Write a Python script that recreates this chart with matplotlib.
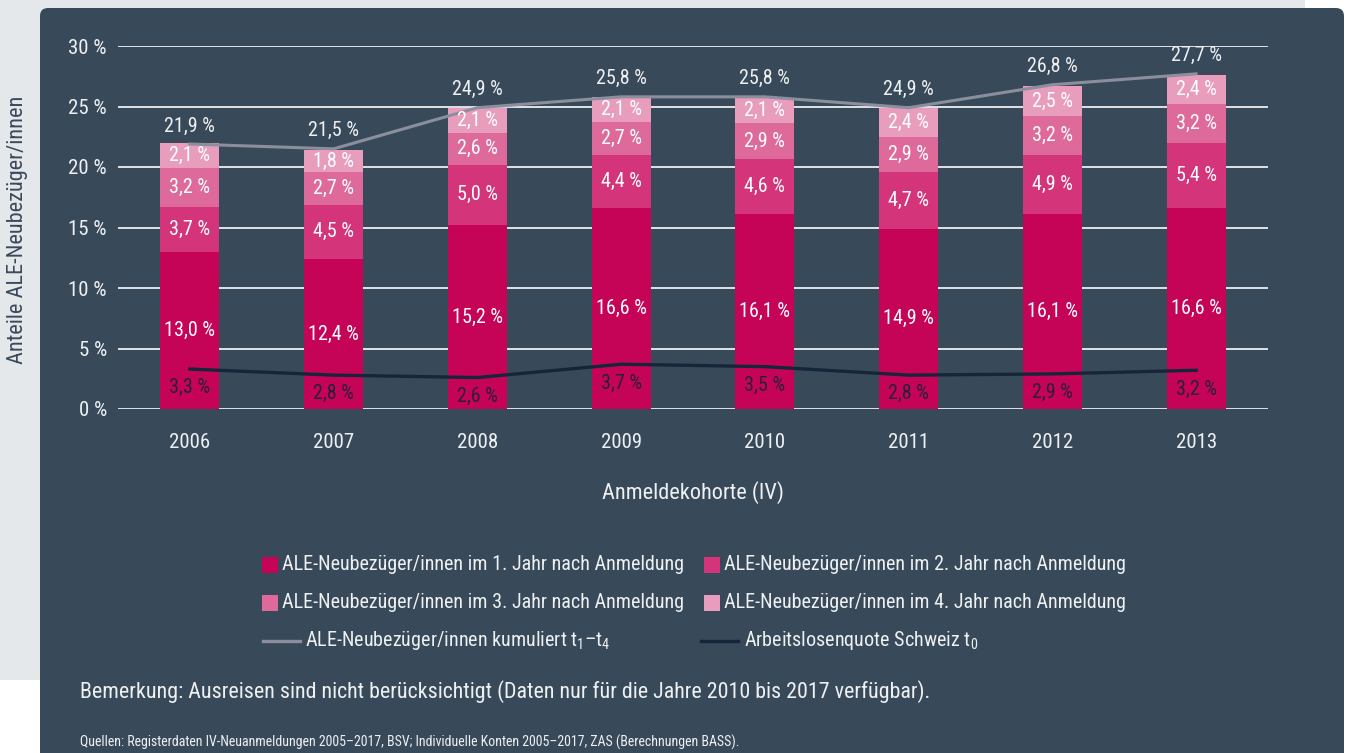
import matplotlib
matplotlib.use("Agg")
import matplotlib.pyplot as plt
from matplotlib import font_manager as fm
from matplotlib.patches import Rectangle, FancyBboxPatch
from matplotlib.lines import Line2D
from matplotlib.transforms import IdentityTransform

# Daten
jahre = ["2006", "2007", "2008", "2009", "2010", "2011", "2012", "2013"]
jahr1 = [13.0, 12.4, 15.2, 16.6, 16.1, 14.9, 16.1, 16.6]
jahr2 = [3.7, 4.5, 5.0, 4.4, 4.6, 4.7, 4.9, 5.4]
jahr3 = [3.2, 2.7, 2.6, 2.7, 2.9, 2.9, 3.2, 3.2]
jahr4 = [2.1, 1.8, 2.1, 2.1, 2.1, 2.4, 2.5, 2.4]
kumuliert = [21.9, 21.5, 24.9, 25.8, 25.8, 24.9, 26.8, 27.7]
alq = [3.3, 2.8, 2.6, 3.7, 3.5, 2.8, 2.9, 3.2]
y_ticks = [0, 5, 10, 15, 20, 25, 30]

serien_namen = [
    "ALE-Neubezüger/innen im 1. Jahr nach Anmeldung",
    "ALE-Neubezüger/innen im 2. Jahr nach Anmeldung",
    "ALE-Neubezüger/innen im 3. Jahr nach Anmeldung",
    "ALE-Neubezüger/innen im 4. Jahr nach Anmeldung",
]
farben = ["#c50458", "#d4347a", "#de6a9b", "#e99dbc"]
panel = "#384a5a"
hellgrau = "#e4e8eb"
textfarbe = "#eef0f2"

# Schrift: möglichst schmal
verfuegbar = {f.name for f in fm.fontManager.ttflist}
schrift = "DejaVu Sans"
for name in ["Roboto Condensed", "Liberation Sans Narrow", "Roboto", "Liberation Sans"]:
    if name in verfuegbar:
        schrift = name
        break
plt.rcParams["font.family"] = [schrift, "DejaVu Sans"]
plt.rcParams["mathtext.fontset"] = "custom"
plt.rcParams["mathtext.rm"] = schrift
plt.rcParams["mathtext.it"] = schrift

def fmt(v):
    return f"{v:.1f}".replace(".", ",") + " %"

W, H = 1346, 753
fig = plt.figure(figsize=(W / 100, H / 100), dpi=100)
fig.patch.set_facecolor("white")

# Hintergrund
fig.patches.append(Rectangle((0, H - 680), 1305, 680, transform=IdentityTransform(),
                             facecolor=hellgrau, edgecolor="none", zorder=-10))
fig.patches.append(FancyBboxPatch((40, -40), 1304, H - 8 + 40,
                                  boxstyle="round,pad=0,rounding_size=8",
                                  transform=IdentityTransform(),
                                  facecolor=panel, edgecolor="none", zorder=-9))

ax = fig.add_axes([118 / W, 344 / H, 1150 / W, 363 / H])
ax.set_facecolor("none")
x = list(range(len(jahre)))
breite = 0.41

unten = [0.0] * len(jahre)
for werte, farbe in zip([jahr1, jahr2, jahr3, jahr4], farben):
    ax.bar(x, werte, width=breite, bottom=unten, color=farbe, zorder=3)
    for i, v in enumerate(werte):
        ax.text(x[i], unten[i] + v / 2, fmt(v), ha="center", va="center",
                color="white", fontsize=14.5, zorder=5)
    unten = [u + v for u, v in zip(unten, werte)]

ax.plot(x, kumuliert, color="#8b8f9d", lw=2.2, zorder=4)
for i, v in enumerate(kumuliert):
    ax.annotate(fmt(v), (x[i], v), xytext=(0, 13), textcoords="offset points",
                ha="center", va="center", color=textfarbe, fontsize=14.5)

ax.plot(x, alq, color="#17253a", lw=2.4, zorder=4)
for i, v in enumerate(alq):
    ax.annotate(fmt(v), (x[i], v), xytext=(0, -13.5), textcoords="offset points",
                ha="center", va="center", color="#2a1f3a", fontsize=14.5, zorder=5)

ax.set_xlim(-0.5, len(jahre) - 0.5)
ax.set_ylim(0, 30)
ax.set_yticks(y_ticks)
ax.set_yticklabels([f"{t} %" for t in y_ticks])
ax.set_xticks(x)
ax.set_xticklabels(jahre)
ax.tick_params(axis="both", length=0, colors=textfarbe, labelsize=15)
ax.tick_params(axis="x", pad=17)
ax.tick_params(axis="y", pad=8)
ax.grid(axis="y", color="#dfe3e7", lw=1.4, zorder=1)
for s in ax.spines.values():
    s.set_visible(False)
ax.set_xlabel("Anmeldekohorte (IV)", color=textfarbe, fontsize=16, labelpad=21)

fig.text(18 / W, 1 - 230 / H, "Anteile ALE-Neubezüger/innen", rotation=90,
         ha="center", va="center", color="#3a4a5a", fontsize=16)

# Legende von Hand
zeilen_y = [565, 603, 641]
spalten_x = [262, 704]
pos = [(0, 0), (1, 0), (0, 1), (1, 1)]
for (sp, ze), name, farbe in zip(pos, serien_namen, farben):
    px, py = spalten_x[sp], zeilen_y[ze]
    fig.patches.append(Rectangle((px, H - py - 8), 16, 16, transform=IdentityTransform(),
                                 facecolor=farbe, edgecolor="none"))
    fig.text((px + 20) / W, 1 - py / H, name, ha="left", va="center",
             color=textfarbe, fontsize=14.5)

linien = [("ALE-Neubezüger/innen kumuliert t$_1$–t$_4$", "#8b8f9d", 263, 305),
          ("Arbeitslosenquote Schweiz t$_0$", "#17253a", 701, 744)]
for name, farbe, x0, tx in linien:
    py = zeilen_y[2]
    fig.lines.append(Line2D([x0, x0 + 37], [H - py, H - py], transform=IdentityTransform(),
                            color=farbe, lw=2.4))
    fig.text(tx / W, 1 - py / H, name, ha="left", va="center",
             color=textfarbe, fontsize=14.5)

fig.text(80 / W, 1 - 692 / H,
         "Bemerkung: Ausreisen sind nicht berücksichtigt (Daten nur für die Jahre 2010 bis 2017 verfügbar).",
         ha="left", va="center", color=textfarbe, fontsize=15.8)
fig.text(80 / W, 1 - 742 / H,
         "Quellen: Registerdaten IV-Neuanmeldungen 2005–2017, BSV; Individuelle Konten 2005–2017, ZAS (Berechnungen BASS).",
         ha="left", va="center", color=textfarbe, fontsize=10)

fig.savefig("out.png", dpi=100)
